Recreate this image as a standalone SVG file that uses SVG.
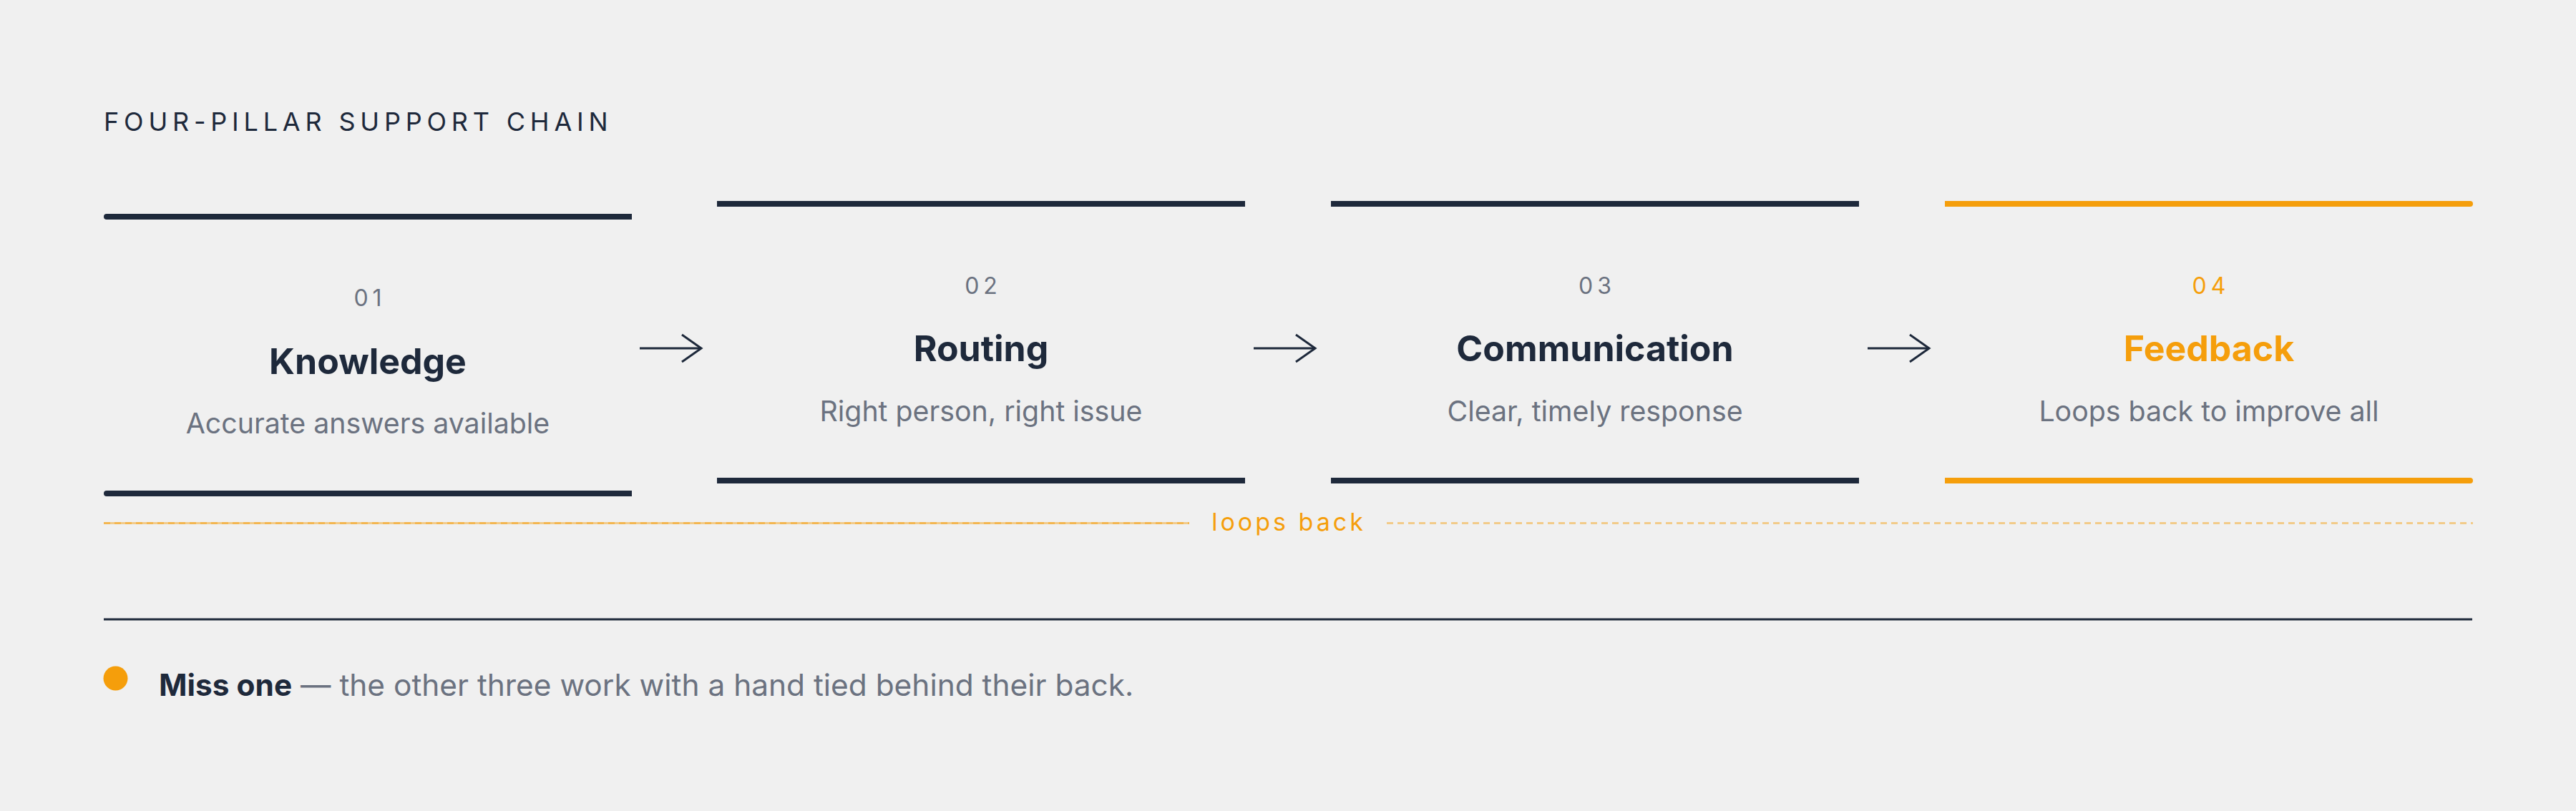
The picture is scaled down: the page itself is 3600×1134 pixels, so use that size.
<svg xmlns="http://www.w3.org/2000/svg" width="3600" height="1134" viewBox="0 0 3600 1134">
<defs>
<style>
.bg{fill:#f0f0f0}
.bar{fill:#1e293b}
.bar.acc{fill:#f59e0b}
.title{font-family:Inter,"Noto Sans",sans-serif;font-size:36px;letter-spacing:6.8px;fill:#1e293b}
.num{font-family:Inter,"Noto Sans",sans-serif;font-size:32px;letter-spacing:6px;fill:#6b7280;text-anchor:middle}
.head{font-family:Inter,"Noto Sans",sans-serif;font-size:50px;font-weight:700;fill:#1e293b;text-anchor:middle}
.desc{font-family:Inter,"Noto Sans",sans-serif;font-size:39.3px;fill:#6b7280;text-anchor:middle}
.acc-t{fill:#f59e0b}
.arrow{stroke:#1e293b;stroke-width:3;fill:none}
.loop{stroke:#f59e0b;stroke-opacity:0.45;stroke-width:3;fill:none}
.loopd{stroke-dasharray:9 6}
.loopl{font-family:Inter,"Noto Sans",sans-serif;font-size:34px;letter-spacing:4px;fill:#f59e0b;text-anchor:middle}
.foot{font-family:Inter,"Noto Sans",sans-serif;font-size:42.4px;fill:#6b7280}
.foot-b{font-weight:700;fill:#1e293b}
</style>
<marker id="chev" markerUnits="userSpaceOnUse" viewBox="0 0 32 42" refX="29" refY="21" markerWidth="32" markerHeight="42" orient="auto">
<path d="M2,2 L29,21 L2,40" stroke="#1e293b" stroke-width="3" fill="none"/>
</marker>
</defs>
<rect class="bg" x="0" y="0" width="3600" height="1134"/>

<text id="title" class="title" x="145" y="183">FOUR-PILLAR SUPPORT CHAIN</text>

<g id="node-knowledge">
<path class="bar" d="M149,299 H883 V307 H149 A4,4 0 0 1 149,299 Z"/>
<path class="bar" d="M149,686 H883 V694 H149 A4,4 0 0 1 149,686 Z"/>
<text class="num" x="517" y="428">01</text>
<text class="head" x="514" y="523">Knowledge</text>
<text class="desc" x="514" y="606">Accurate answers available</text>
</g>

<g id="node-routing">
<rect class="bar" x="1002" y="281" width="738" height="8"/>
<rect class="bar" x="1002" y="668" width="738" height="8"/>
<text class="num" x="1374" y="411">02</text>
<text class="head" x="1371" y="505">Routing</text>
<text class="desc" x="1371" y="589">Right person, right issue</text>
</g>

<g id="node-communication">
<rect class="bar" x="1860" y="281" width="738" height="8"/>
<rect class="bar" x="1860" y="668" width="738" height="8"/>
<text class="num" x="2232" y="411">03</text>
<text class="head" x="2229" y="505">Communication</text>
<text class="desc" x="2229" y="589">Clear, timely response</text>
</g>

<g id="node-feedback">
<path class="bar acc" d="M2718,281 H3452 A4,4 0 0 1 3452,289 H2718 Z"/>
<path class="bar acc" d="M2718,668 H3452 A4,4 0 0 1 3452,676 H2718 Z"/>
<text class="num acc-t" x="3090" y="411">04</text>
<text class="head acc-t" x="3087" y="505">Feedback</text>
<text class="desc" x="3087" y="589">Loops back to improve all</text>
</g>

<g id="connectors">
<line class="arrow" x1="894" y1="487" x2="980" y2="487" marker-end="url(#chev)"/>
<line class="arrow" x1="1752" y1="487" x2="1838" y2="487" marker-end="url(#chev)"/>
<line class="arrow" x1="2610" y1="487" x2="2696" y2="487" marker-end="url(#chev)"/>
<g id="loop-back">
<line class="loop" x1="145" y1="731.5" x2="1662" y2="731.5"/>
<line class="loop loopd" x1="145" y1="731.5" x2="1662" y2="731.5"/>
<line class="loop loopd" x1="1938" y1="731.5" x2="3456" y2="731.5"/>
<text class="loopl" x="1801" y="742">loops back</text>
</g>
</g>

<line id="separator" x1="145" y1="866" x2="3455" y2="866" stroke="#1e293b" stroke-width="3"/>

<g id="footnote">
<circle cx="161.5" cy="948.5" r="17" fill="#f59e0b"/>
<text class="foot" x="222" y="973"><tspan class="foot-b">Miss one</tspan> — the other three work with a hand tied behind their back.</text>
</g>
</svg>
